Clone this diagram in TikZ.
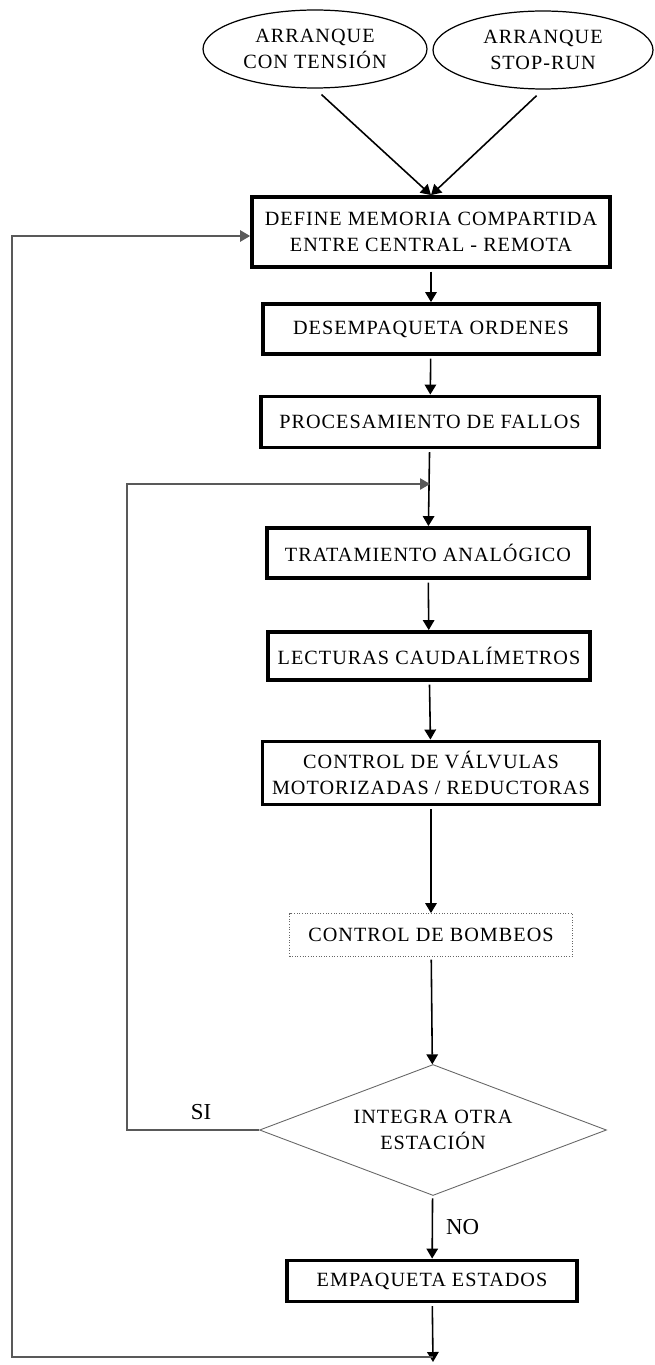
\documentclass[tikz,border=0pt]{standalone}
\usepackage{fontspec}
\setmainfont{Liberation Serif}
\newfontfamily\flowfont{Liberation Serif}[LetterSpace=5]
\usetikzlibrary{arrows.meta,shapes.geometric}

\tikzset{
  txt/.style={align=center, font=\flowfont\fontsize{11.5}{14.5}\selectfont},
  start/.style={ellipse, draw, line width=0.7pt, inner sep=0pt, minimum height=1.56cm, txt},
  proc/.style={rectangle, draw, line width=2.2pt, inner sep=0pt, txt},
  procthin/.style={rectangle, draw=black!60, densely dotted, line width=0.5pt, inner sep=0pt, txt},
  decision/.style={diamond, aspect=2.65, draw=black!60, line width=0.5pt, inner sep=0pt, txt},
  flow/.style={-{Triangle[length=2mm,width=2.3mm]}, line width=0.9pt, shorten <=1.5pt},
  back/.style={line width=0.6pt, draw=black!65},
  tag/.style={font=\fontsize{13}{15}\selectfont}
}

\begin{document}
\begin{tikzpicture}[x=0.02cm, y=-0.02cm]
  \useasboundingbox (0,0) rectangle (655,1365);

  % arranques
  \node[start, minimum width=4.48cm] (arrTension) at (315,49) {ARRANQUE\\CON TENSIÓN};
  \node[start, minimum width=4.4cm] (arrStopRun) at (543,50) {ARRANQUE\\STOP-RUN};

  % columna principal
  \node[proc, minimum width=7.16cm, minimum height=1.4cm] (memoria) at (431,232) {DEFINE MEMORIA COMPARTIDA\\ENTRE CENTRAL - REMOTA};
  \node[proc, minimum width=6.72cm, minimum height=1cm] (ordenes) at (431,329) {DESEMPAQUETA ORDENES};
  \node[proc, minimum width=6.76cm, minimum height=1.02cm] (fallos) at (430,422) {PROCESAMIENTO DE FALLOS};
  \node[proc, minimum width=6.44cm, minimum height=1cm] (analog) at (428,553) {TRATAMIENTO ANALÓGICO};
  \node[proc, minimum width=6.44cm, minimum height=0.96cm] (caudal) at (429,656) {LECTURAS CAUDALÍMETROS};
  \node[proc, minimum width=6.74cm, minimum height=1.26cm] (valvulas) at (431,773) {CONTROL DE VÁLVULAS\\MOTORIZADAS / REDUCTORAS};
  \node[procthin, minimum width=5.66cm, minimum height=0.86cm] (bombeos) at (431,935) {CONTROL DE BOMBEOS};
  \node[decision, minimum width=6.94cm, minimum height=2.62cm] (otraEst) at (433,1130) {INTEGRA OTRA\\ESTACIÓN};
  \node[proc, minimum width=5.8cm, minimum height=0.82cm] (estados) at (432,1281) {EMPAQUETA ESTADOS};

  % puntos de retorno
  \coordinate (fin) at (433,1362);
  \coordinate (retMem) at (12,236);
  \coordinate (retEst) at (127,484);
  \coordinate (nuevaEst) at (430,484);

  \draw[flow, shorten <=5pt] (arrTension.south) -- (memoria.north);
  \draw[flow, shorten <=5pt] (arrStopRun.south) -- (memoria.north);
  \draw[flow] (memoria) -- (ordenes);
  \draw[flow] (ordenes) -- (fallos);
  \draw[flow] (fallos) -- (analog);% pasa por nuevaEst
  \draw[flow] (analog) -- (caudal);
  \draw[flow] (caudal) -- (valvulas);
  \draw[flow] (valvulas) -- (bombeos);
  \draw[flow] (bombeos) -- (otraEst);
  \draw[flow] (otraEst) -- node[tag, right=4pt] {NO} (estados);
  \draw[flow] (estados) -- (fin);

  % lazos
  \draw[back, -{Triangle[length=2mm,width=2.3mm]}] (otraEst.west) -| (retEst) -- (nuevaEst);
  \draw[back, -{Triangle[length=2mm,width=2.3mm]}] (fin) ++(0,-5) -| (retMem) -- (retMem -| memoria.west);
  \node[tag] (si) at (201,1112) {SI};

\end{tikzpicture}
\end{document}
